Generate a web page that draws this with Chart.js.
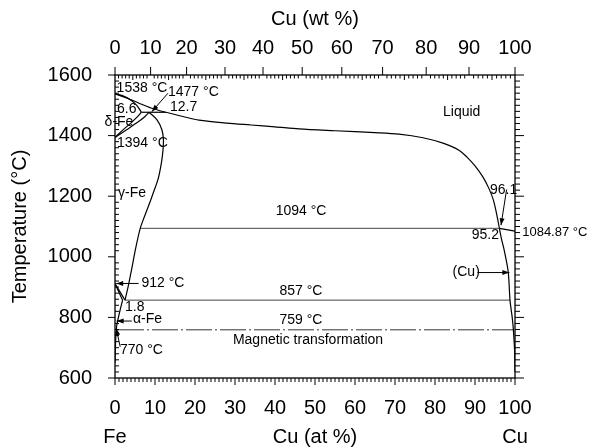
<!DOCTYPE html>
<html>
<head>
<meta charset="utf-8">
<script src="https://cdn.jsdelivr.net/npm/chart.js@4.4.1/dist/chart.umd.min.js"></script>
<style>
  html, body { margin: 0; padding: 0; background: #fff; }
  #wrap { width: 589px; height: 447px; }
</style>
</head>
<body>
<div id="wrap"><canvas id="phase"></canvas></div>
<script>
/* ================================
   Data (x = Cu at %, y = °C)
================================ */
const liquidus = [[0,1538],[3,1524],[6,1507],[9,1491],[12.7,1477],[17,1463],[21,1451],[28,1441],[34,1435],[40,1429],[46,1422],[55,1416],[65,1410],[71,1405],[77,1393],[82,1375],[86,1352],[88,1329],[90,1300],[92,1263],[93.5,1225],[94.6,1187],[95.4,1142],[96.1,1094]];
const deltaSolidus = [[0,1538],[2,1531],[4,1517],[5.5,1499],[6.6,1477]];
const deltaGamma = [[0,1394],[2,1419],[4,1442],[5.5,1461],[6.6,1477]];
const gammaDelta = [[0,1394],[3,1420],[6,1447],[7.5,1463],[8.5,1477]];
const gammaBoundary = [[8.5,1477],[10.5,1452],[11.7,1420],[12.1,1388],[12.0,1352],[11.6,1310],[10.8,1258],[9.6,1212],[8.3,1165],[7.2,1127],[6.3,1094],[5.2,1030],[4.2,962],[3.3,902],[2.5,857]];
const gammaAlpha = [[0,912],[2.5,857]];
const alphaGamma = [[0,912],[1.9,857]];
const alphaSolvus = [[1.9,857],[1.2,820],[0.4,770],[0.15,720],[0,650]];
const cuSolvus = [[96.1,1094],[96.6,1060],[97.3,1022],[98.3,951],[98.75,857],[99.3,800],[99.6,758],[99.9,690],[100,620]];
const cuLiquidus = [[96.1,1094],[100,1084.87]];
const peritectic1477 = [[6.6,1477],[12.7,1477]];
const peritectic1094 = [[6.3,1094],[96.1,1094]];
const eutectoid857 = [[2.5,857],[98.75,857]];
const magnetic759 = [[0.75,759],[99.6,759]];

const atTickLabels = ['0','10','20','30','40','50','60','70','80','90','100'];
const wtTickLabels = ['0','10','20','30','40','50','60','70','80','90','100'];
const wtTickPos = [0, 8.9, 17.9, 27.5, 37.0, 46.8, 56.7, 66.9, 77.8, 88.5, 100];

// text, at %, °C, align, font size
const notes = [
  ['1538 °C', 0.4, 1556, 'left', 14],
  ['1477 °C', 13.25, 1545, 'left', 14],
  ['12.7', 13.75, 1494, 'left', 14],
  ['6.6', 0.5, 1487, 'left', 14],
  ['δ-Fe', -2.6, 1446, 'left', 14],
  ['1394 °C', 0.5, 1376, 'left', 14],
  ['γ-Fe', 0.75, 1210, 'left', 14],
  ['Liquid', 82, 1476, 'left', 14],
  ['96.1', 93.75, 1220, 'left', 14],
  ['1094 °C', 46.5, 1151, 'center', 14],
  ['95.2', 89.2, 1072, 'left', 14],
  ['1084.87 °C', 101.8, 1082, 'left', 13],
  ['(Cu)', 84.4, 948, 'left', 14],
  ['912 °C', 6.6, 912, 'left', 14],
  ['857 °C', 46.5, 887, 'center', 14],
  ['1.8', 2.5, 834, 'left', 14],
  ['α-Fe', 4.5, 795, 'left', 14],
  ['759 °C', 46.5, 791, 'center', 14],
  ['Magnetic transformation', 48.25, 725, 'center', 14],
  ['770 °C', 1.25, 692, 'left', 14]
];

const arrows = [
  [[13.25,1540],[9.2,1479]],
  [[97.9,1222],[96.5,1104]],
  [[90.6,948],[98.6,948]],
  [[5.9,912],[0.3,912]],
  [[4.2,788],[0.4,788]],
  [[1.3,703],[0.3,764]]
];

/* ================================
   Helpers
================================ */
const FONT = '"Liberation Sans", Arial, Helvetica, sans-serif';
const toPts = arr => arr.map(([x, y]) => ({ x, y }));

function curve(arr, opts = {}) {
  return {
    data: toPts(arr),
    showLine: true,
    pointRadius: 0,
    borderColor: '#000',
    borderWidth: 1.2,
    tension: 0.3,
    ...opts
  };
}

function fixSize(prop, px) {
  return scale => { scale[prop] = px; };
}

/* ================================
   Plugin: frame, ticks, notes, arrows
================================ */
const phaseDecor = {
  id: 'phaseDecor',
  afterDraw(chart) {
    const { ctx, chartArea: a, scales: { x, y } } = chart;
    const px = v => x.getPixelForValue(v);
    const py = v => y.getPixelForValue(v);

    ctx.save();
    ctx.strokeStyle = '#000';
    ctx.lineWidth = 1.3;
    ctx.strokeRect(a.left, a.top, a.right - a.left, a.bottom - a.top);

    ctx.lineWidth = 1;
    ctx.beginPath();
    // bottom: at %
    for (let v = 0; v <= 100; v++) {
      const len = v % 10 === 0 ? 7 : 4;
      ctx.moveTo(px(v), a.bottom);
      ctx.lineTo(px(v), a.bottom + len);
    }
    // top: wt %
    wtTickPos.forEach((p, i) => {
      ctx.moveTo(px(p), a.top);
      ctx.lineTo(px(p), a.top - 8);
      if (i < wtTickPos.length - 1) {
        const next = wtTickPos[i + 1];
        for (let k = 1; k < 10; k++) {
          const m = p + (next - p) * k / 10;
          ctx.moveTo(px(m), a.top);
          ctx.lineTo(px(m), a.top + (k === 5 ? 5 : 3.5));
        }
      }
    });
    // left / right: every 20 °C
    for (let t = 600; t <= 1600; t += 20) {
      const major = t % 200 === 0;
      ctx.moveTo(a.left, py(t));
      ctx.lineTo(major ? a.left - 7 : a.left + 4, py(t));
      ctx.moveTo(a.right, py(t));
      ctx.lineTo(a.right + (major ? 9 : 5), py(t));
    }
    ctx.stroke();

    // arrows
    arrows.forEach(([from, to]) => {
      const x0 = px(from[0]), y0 = py(from[1]);
      const x1 = px(to[0]), y1 = py(to[1]);
      const ang = Math.atan2(y1 - y0, x1 - x0);
      ctx.beginPath();
      ctx.moveTo(x0, y0);
      ctx.lineTo(x1, y1);
      ctx.stroke();
      ctx.beginPath();
      ctx.moveTo(x1, y1);
      ctx.lineTo(x1 - 7 * Math.cos(ang) + 2.5 * Math.sin(ang), y1 - 7 * Math.sin(ang) - 2.5 * Math.cos(ang));
      ctx.lineTo(x1 - 7 * Math.cos(ang) - 2.5 * Math.sin(ang), y1 - 7 * Math.sin(ang) + 2.5 * Math.cos(ang));
      ctx.closePath();
      ctx.fillStyle = '#000';
      ctx.fill();
    });

    // text notes
    ctx.fillStyle = '#000';
    ctx.textBaseline = 'middle';
    notes.forEach(([txt, xv, yv, align, size]) => {
      ctx.font = `${size}px ${FONT}`;
      ctx.textAlign = align;
      ctx.fillText(txt, px(xv), py(yv));
    });

    // element names under the axis ends
    ctx.font = `20px ${FONT}`;
    ctx.textAlign = 'center';
    const ty = x.bottom - 10;
    ctx.fillText('Fe', px(0), ty);
    ctx.fillText('Cu', px(100), ty);
    ctx.restore();
  }
};

/* ================================
   Chart
================================ */
const tickFont = { family: FONT, size: 20 };

new Chart(document.getElementById('phase'), {
  type: 'scatter',
  data: {
    datasets: [
      curve(liquidus),
      curve(deltaSolidus),
      curve(deltaGamma),
      curve(gammaDelta),
      curve(gammaBoundary),
      curve(gammaAlpha, { tension: 0 }),
      curve(alphaGamma, { tension: 0 }),
      curve(alphaSolvus),
      curve(cuSolvus),
      curve(cuLiquidus, { tension: 0 }),
      curve(peritectic1477, { tension: 0 }),
      curve(peritectic1094, { tension: 0, borderColor: '#444', borderWidth: 1 }),
      curve(eutectoid857, { tension: 0, borderColor: '#444', borderWidth: 1 }),
      curve(magnetic759, { tension: 0, borderColor: '#333', borderWidth: 1, borderDash: [26, 3, 2, 3] })
    ]
  },
  options: {
    responsive: true,
    maintainAspectRatio: false,
    animation: false,
    layout: { padding: { left: 0, right: 74, top: 0, bottom: 0 } },
    plugins: {
      legend: { display: false },
      tooltip: { enabled: false }
    },
    scales: {
      x: {
        type: 'linear',
        position: 'bottom',
        min: 0,
        max: 100,
        afterFit: fixSize('height', 69),
        afterBuildTicks: scale => {
          scale.ticks = atTickLabels.map(l => ({ value: Number(l) }));
        },
        ticks: {
          color: '#000',
          font: tickFont,
          padding: 18,
          maxRotation: 0,
          callback: (v, i) => atTickLabels[i]
        },
        grid: { display: false, drawTicks: false },
        border: { display: false },
        title: {
          display: true,
          text: 'Cu (at %)',
          color: '#000',
          font: tickFont,
          padding: { top: 0, bottom: -2 }
        }
      },
      x2: {
        type: 'linear',
        position: 'top',
        min: 0,
        max: 100,
        afterFit: fixSize('height', 75),
        afterBuildTicks: scale => {
          scale.ticks = wtTickPos.map(v => ({ value: v }));
        },
        ticks: {
          color: '#000',
          font: tickFont,
          padding: 15,
          maxRotation: 0,
          autoSkip: false,
          callback: (v, i) => wtTickLabels[i]
        },
        grid: { display: false, drawTicks: false },
        border: { display: false },
        title: {
          display: true,
          text: 'Cu (wt %)',
          color: '#000',
          font: tickFont,
          padding: { top: 7, bottom: 0 }
        }
      },
      y: {
        type: 'linear',
        position: 'left',
        min: 600,
        max: 1600,
        afterFit: fixSize('width', 115),
        ticks: {
          stepSize: 200,
          color: '#000',
          font: tickFont,
          padding: 23,
          callback: v => String(v)
        },
        grid: { display: false, drawTicks: false },
        border: { display: false },
        title: {
          display: true,
          text: 'Temperature (°C)',
          color: '#000',
          font: tickFont,
          padding: { top: 8, bottom: 0 }
        }
      }
    }
  },
  plugins: [phaseDecor]
});
</script>
</body>
</html>
